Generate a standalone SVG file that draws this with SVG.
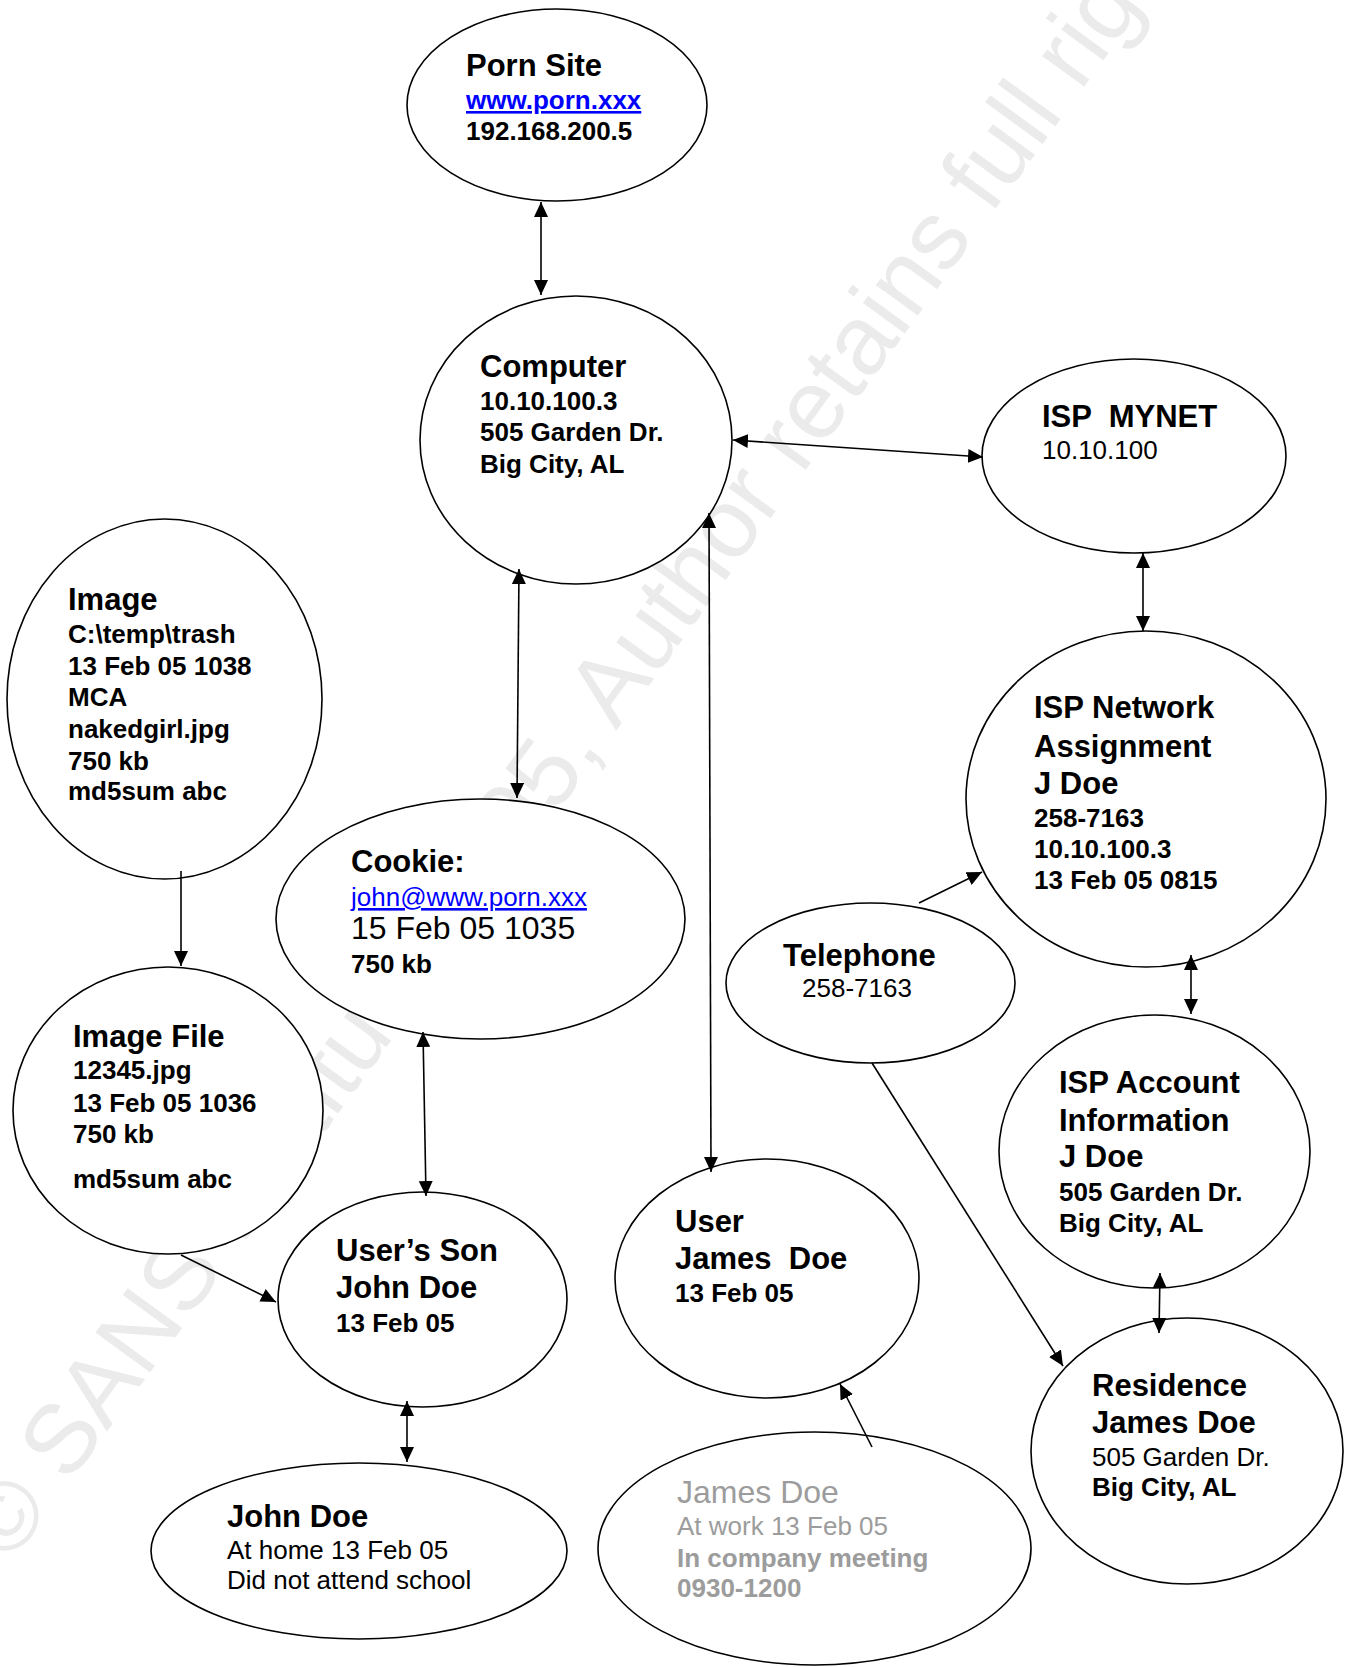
<svg xmlns="http://www.w3.org/2000/svg" width="1353" height="1667" viewBox="0 0 1353 1667">
<style>
text{font-family:"Liberation Sans",Arial,Helvetica,sans-serif;fill:#000}
.t{font-size:31px;font-weight:bold}
.b{font-size:26px;font-weight:bold}
.r{font-size:26px}
.R{font-size:32px}
.link{fill:#0000ff;text-decoration:underline}
.g{fill:#9c9c9c}
.wm{font-size:98px;fill:#ebebeb}
ellipse{fill:#fff;stroke:#000;stroke-width:1.6}
.c line{stroke:#000;stroke-width:1.6}
</style>
<defs>
<marker id="ah" viewBox="0 0 15 14" refX="15" refY="7" markerWidth="15" markerHeight="14" markerUnits="userSpaceOnUse" orient="auto-start-reverse"><path d="M0,0 L15,7 L0,14 z" fill="#000"/></marker>
</defs>
<rect width="1353" height="1667" fill="#fff"/>
<text class="wm" transform="translate(10,1565) rotate(-54)">© SANS Institute 2005, Author retains full rights</text>

<g id="porn-site"><ellipse cx="557" cy="105" rx="150" ry="96"/>
<text class="t" x="466" y="76">Porn Site</text>
<text class="b link" x="466" y="109">www.porn.xxx</text>
<text class="b" x="466" y="140">192.168.200.5</text></g>

<g id="computer"><ellipse cx="576" cy="440" rx="156" ry="144"/>
<text class="t" x="480" y="377">Computer</text>
<text class="b" x="480" y="410">10.10.100.3</text>
<text class="b" x="480" y="441">505 Garden Dr.</text>
<text class="b" x="480" y="473">Big City, AL</text></g>

<g id="isp-mynet"><ellipse cx="1134" cy="456" rx="152" ry="97"/>
<text class="t" x="1042" y="427" xml:space="preserve">ISP  MYNET</text>
<text class="r" x="1042" y="459">10.10.100</text></g>

<g id="isp-network"><ellipse cx="1146" cy="799" rx="180" ry="168"/>
<text class="t" x="1034" y="718">ISP Network</text>
<text class="t" x="1034" y="757">Assignment</text>
<text class="t" x="1034" y="794">J Doe</text>
<text class="b" x="1034" y="827">258-7163</text>
<text class="b" x="1034" y="858">10.10.100.3</text>
<text class="b" x="1034" y="889">13 Feb 05 0815</text></g>

<g id="telephone"><ellipse cx="870.5" cy="983" rx="144.5" ry="80"/>
<text class="t" x="783" y="966">Telephone</text>
<text class="r" x="802" y="997">258-7163</text></g>

<g id="isp-account"><ellipse cx="1154.5" cy="1151.5" rx="155.5" ry="136.5"/>
<text class="t" x="1059" y="1093">ISP Account</text>
<text class="t" x="1059" y="1131">Information</text>
<text class="t" x="1059" y="1167">J Doe</text>
<text class="b" x="1059" y="1201">505 Garden Dr.</text>
<text class="b" x="1059" y="1232">Big City, AL</text></g>

<g id="residence"><ellipse cx="1187" cy="1451" rx="156" ry="133"/>
<text class="t" x="1092" y="1396">Residence</text>
<text class="t" x="1092" y="1433">James Doe</text>
<text class="r" x="1092" y="1466">505 Garden Dr.</text>
<text class="b" x="1092" y="1496">Big City, AL</text></g>

<g id="image"><ellipse cx="164.5" cy="699" rx="157.5" ry="180"/>
<text class="t" x="68" y="610">Image</text>
<text class="b" x="68" y="643">C:\temp\trash</text>
<text class="b" x="68" y="675">13 Feb 05 1038</text>
<text class="b" x="68" y="706">MCA</text>
<text class="b" x="68" y="738">nakedgirl.jpg</text>
<text class="b" x="68" y="770">750 kb</text>
<text class="b" x="68" y="800">md5sum abc</text></g>

<g id="image-file"><ellipse cx="168" cy="1110.5" rx="155" ry="143.5"/>
<text class="t" x="73" y="1047">Image File</text>
<text class="b" x="73" y="1079">12345.jpg</text>
<text class="b" x="73" y="1112">13 Feb 05 1036</text>
<text class="b" x="73" y="1143">750 kb</text>
<text class="b" x="73" y="1188">md5sum abc</text></g>

<g id="cookie"><ellipse cx="480.5" cy="919" rx="204.5" ry="120"/>
<text class="t" x="351" y="872">Cookie:</text>
<text class="r link" x="351" y="906">john@www.porn.xxx</text>
<text class="R" x="351" y="939">15 Feb 05 1035</text>
<text class="b" x="351" y="973">750 kb</text></g>

<g id="users-son"><ellipse cx="422.5" cy="1299.5" rx="144.5" ry="107.5"/>
<text class="t" x="336" y="1261">User’s Son</text>
<text class="t" x="336" y="1298">John Doe</text>
<text class="b" x="336" y="1332">13 Feb 05</text></g>

<g id="john-doe"><ellipse cx="359" cy="1551" rx="208" ry="88"/>
<text class="t" x="227" y="1527">John Doe</text>
<text class="r" x="227" y="1559">At home 13 Feb 05</text>
<text class="r" x="227" y="1589">Did not attend school</text></g>

<g id="user"><ellipse cx="767" cy="1278.5" rx="152" ry="119.5"/>
<text class="t" x="675" y="1232">User</text>
<text class="t" x="675" y="1269" xml:space="preserve">James  Doe</text>
<text class="b" x="675" y="1302">13 Feb 05</text></g>

<g id="james-doe-work"><ellipse cx="814.5" cy="1548.5" rx="216.5" ry="116.5"/>
<text class="R g" x="677" y="1503">James Doe</text>
<text class="r g" x="677" y="1535">At work 13 Feb 05</text>
<text class="b g" x="677" y="1567">In company meeting</text>
<text class="b g" x="677" y="1597">0930-1200</text></g>

<g id="connectors" class="c">
<line x1="541" y1="202" x2="541" y2="295" marker-start="url(#ah)" marker-end="url(#ah)"/>
<line x1="733" y1="440" x2="983" y2="457" marker-start="url(#ah)" marker-end="url(#ah)"/>
<line x1="1143" y1="553" x2="1143" y2="631" marker-start="url(#ah)" marker-end="url(#ah)"/>
<line x1="519" y1="569" x2="517" y2="798" marker-start="url(#ah)" marker-end="url(#ah)"/>
<line x1="709" y1="513" x2="711" y2="1172" marker-start="url(#ah)" marker-end="url(#ah)"/>
<line x1="181" y1="871" x2="181" y2="966" marker-end="url(#ah)"/>
<line x1="181" y1="1255" x2="276" y2="1302" marker-end="url(#ah)"/>
<line x1="423" y1="1032" x2="426" y2="1196" marker-start="url(#ah)" marker-end="url(#ah)"/>
<line x1="407" y1="1401" x2="407" y2="1462" marker-start="url(#ah)" marker-end="url(#ah)"/>
<line x1="919" y1="903" x2="982" y2="872" marker-end="url(#ah)"/>
<line x1="1191" y1="955" x2="1191" y2="1014" marker-start="url(#ah)" marker-end="url(#ah)"/>
<line x1="1160" y1="1273" x2="1159" y2="1333" marker-start="url(#ah)" marker-end="url(#ah)"/>
<line x1="872" y1="1063" x2="1063" y2="1366" marker-end="url(#ah)"/>
<line x1="872" y1="1447" x2="840" y2="1384" marker-end="url(#ah)"/>
</g>
</svg>
